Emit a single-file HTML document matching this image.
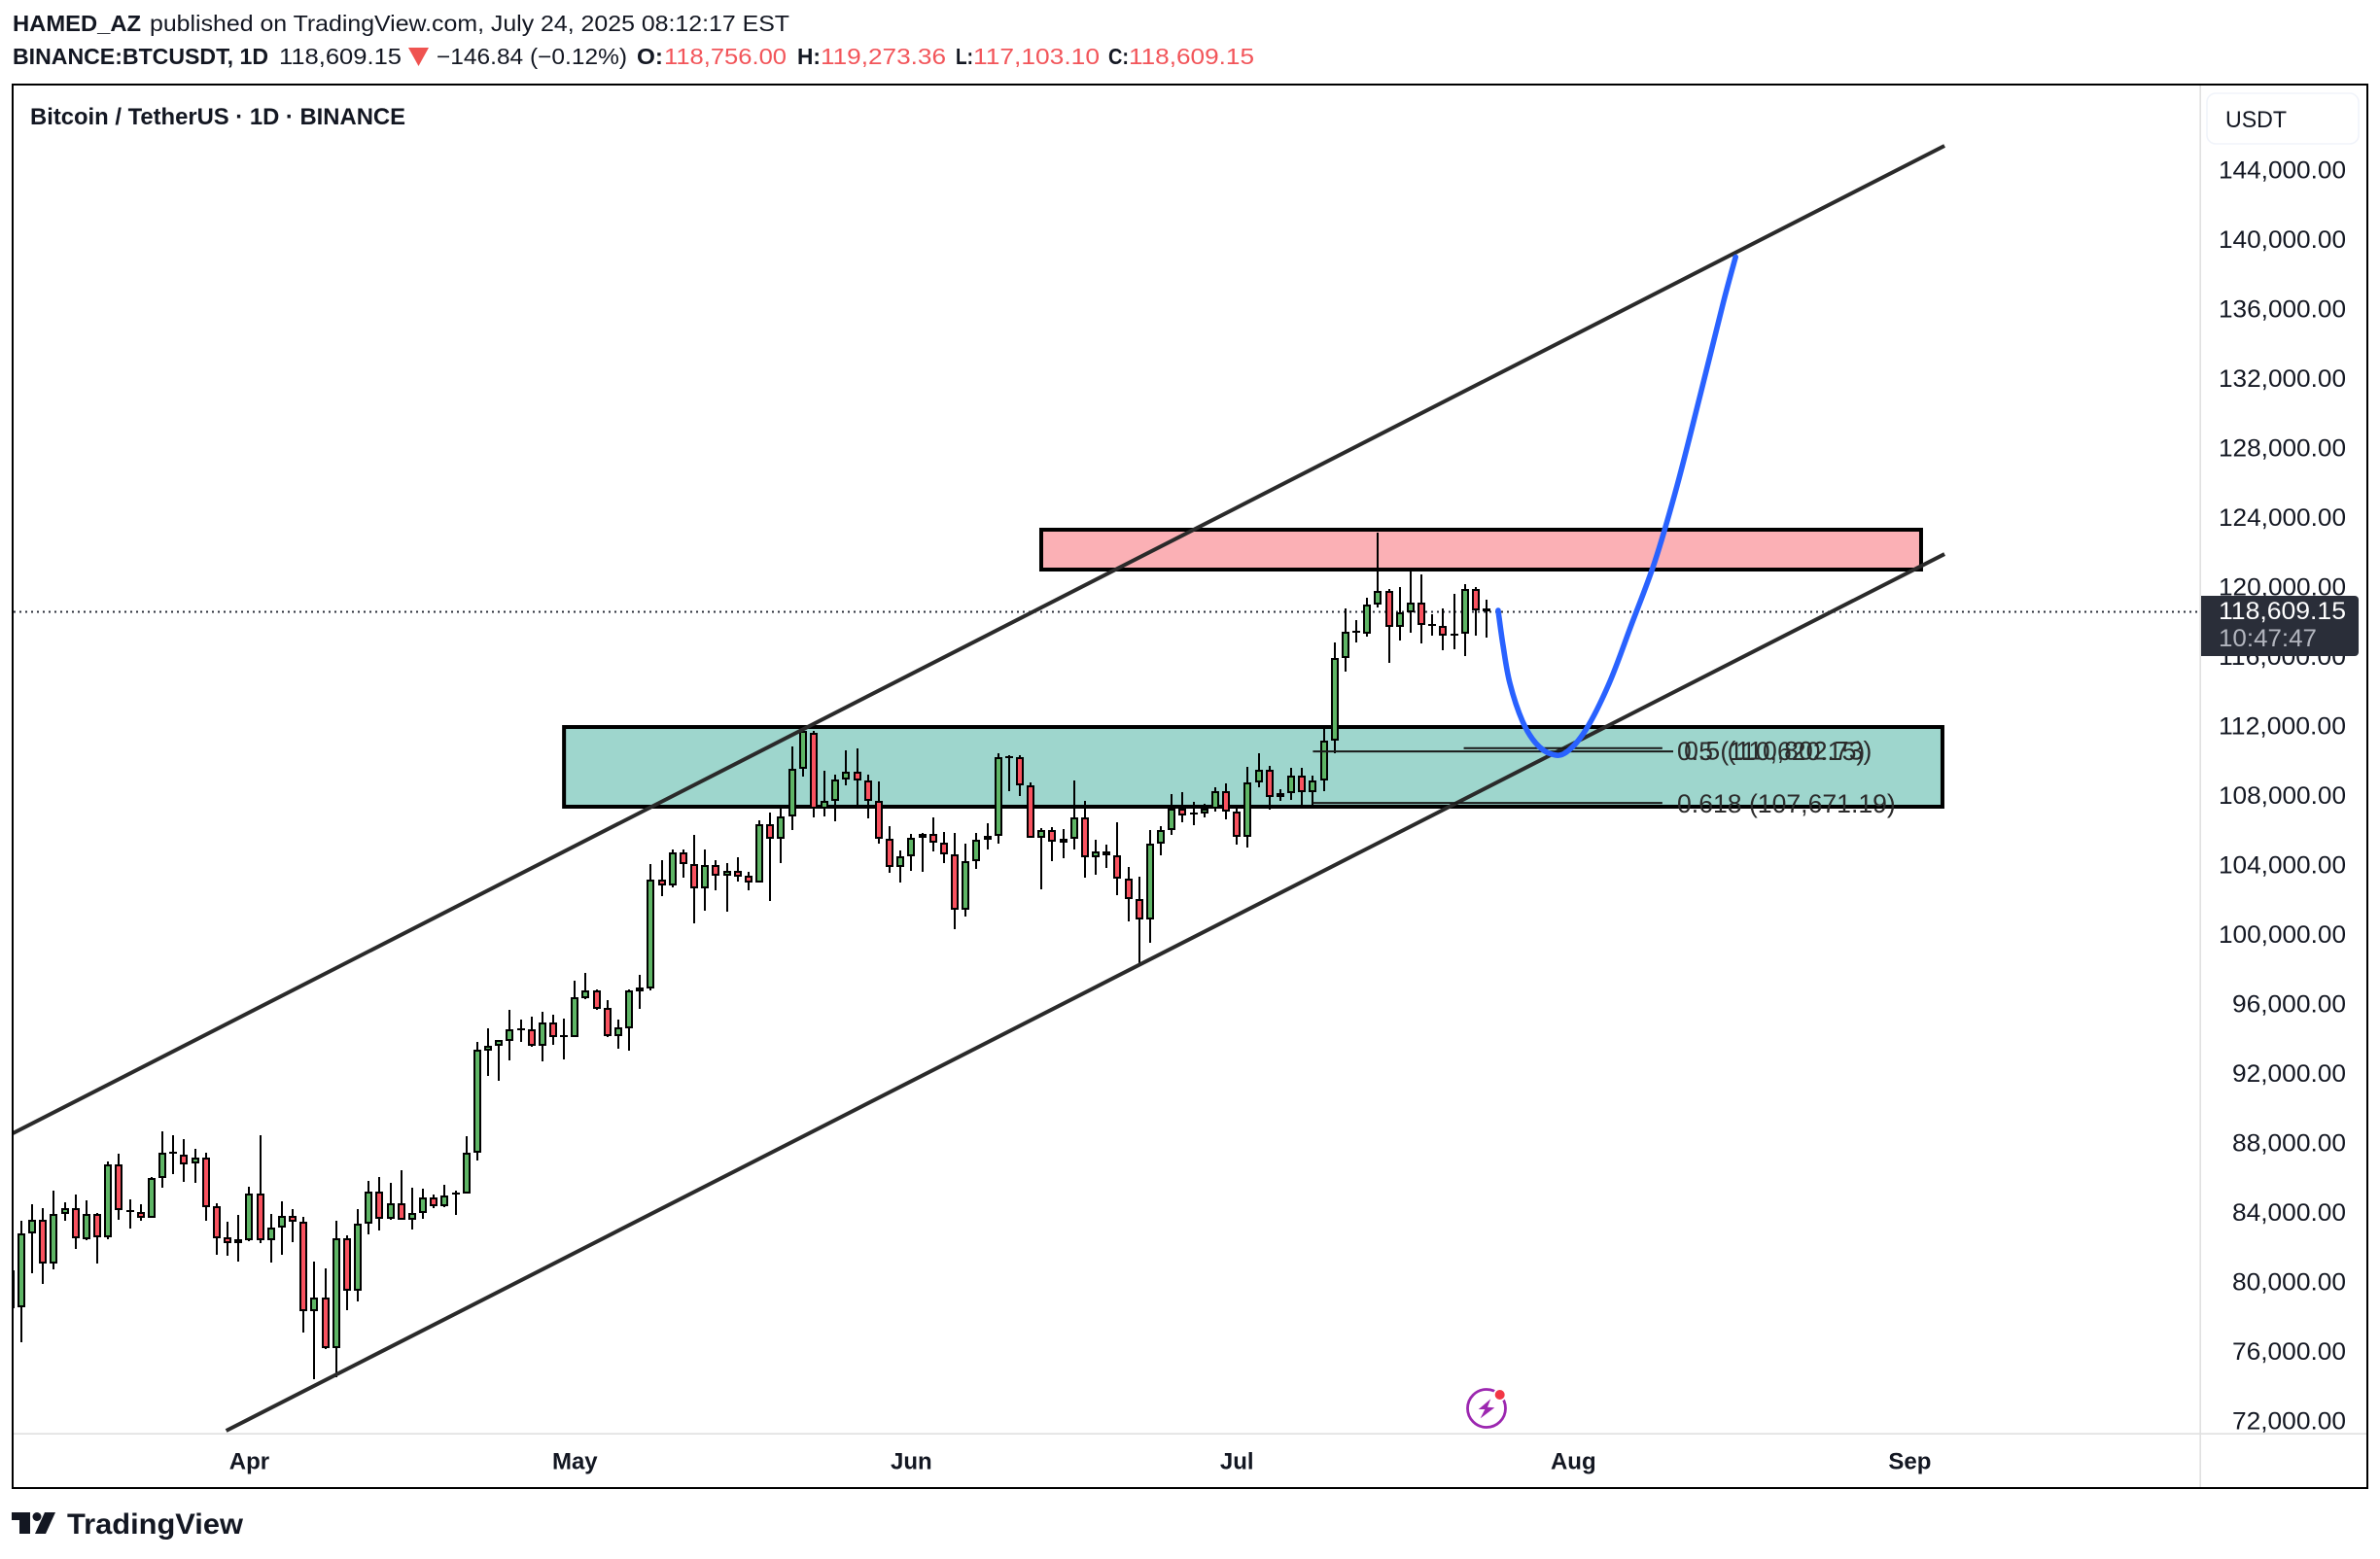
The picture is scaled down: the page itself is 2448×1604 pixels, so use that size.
<!DOCTYPE html>
<html lang="en">
<head>
<meta charset="utf-8">
<title>BTCUSDT 1D chart</title>
<style>
html,body{margin:0;padding:0;background:#fff;}
body{width:2448px;height:1604px;overflow:hidden;}
svg{display:block;font-family:"Liberation Sans",sans-serif;}
.bold{font-weight:700;}
</style>
</head>
<body>
<svg id="chart" xmlns="http://www.w3.org/2000/svg" width="2448" height="1604" viewBox="0 0 2448 1604">
  <defs>
    <clipPath id="pane-clip"><rect x="14" y="88" width="2248.5" height="1386.5"/></clipPath>
  </defs>
  <rect x="0" y="0" width="2448" height="1604" fill="#ffffff"/>

  <g fill="#131722" font-size="23">
    <text class="bold" x="13" y="32" textLength="132" lengthAdjust="spacingAndGlyphs">HAMED_AZ</text>
    <text x="154" y="32" textLength="658" lengthAdjust="spacingAndGlyphs">published on TradingView.com, July 24, 2025 08:12:17 EST</text>
    <text class="bold" x="13" y="66" textLength="263" lengthAdjust="spacingAndGlyphs">BINANCE:BTCUSDT, 1D</text>
    <text x="287" y="66" textLength="126" lengthAdjust="spacingAndGlyphs">118,609.15</text>
    <polygon points="420,49 441,49 430.5,68" fill="#ef5350"/>
    <text x="449" y="66" textLength="196" lengthAdjust="spacingAndGlyphs">−146.84 (−0.12%)</text>
    <text class="bold" x="655" y="66" textLength="27" lengthAdjust="spacingAndGlyphs">O:</text>
    <text fill="#f2555a" x="683" y="66" textLength="126" lengthAdjust="spacingAndGlyphs">118,756.00</text>
    <text class="bold" x="820" y="66" textLength="24" lengthAdjust="spacingAndGlyphs">H:</text>
    <text fill="#f2555a" x="844" y="66" textLength="129" lengthAdjust="spacingAndGlyphs">119,273.36</text>
    <text class="bold" x="983" y="66" textLength="18" lengthAdjust="spacingAndGlyphs">L:</text>
    <text fill="#f2555a" x="1001" y="66" textLength="130" lengthAdjust="spacingAndGlyphs">117,103.10</text>
    <text class="bold" x="1140" y="66" textLength="21" lengthAdjust="spacingAndGlyphs">C:</text>
    <text fill="#f2555a" x="1161" y="66" textLength="129" lengthAdjust="spacingAndGlyphs">118,609.15</text>
  </g>

  <g id="pane" clip-path="url(#pane-clip)"></g>

  <text class="bold" fill="#131722" font-size="24" x="31" y="128" textLength="386" lengthAdjust="spacingAndGlyphs">Bitcoin / TetherUS · 1D · BINANCE</text>

  <g id="price-axis" fill="#131722" font-size="25"></g>
  <g id="time-axis" fill="#131722" font-size="24" font-weight="700" text-anchor="middle"></g>

  <line x1="2263.2" y1="88" x2="2263.2" y2="1530" stroke="#e0e0e0" stroke-width="1.6"/>
  <line x1="14" y1="1475.2" x2="2434" y2="1475.2" stroke="#e0e0e0" stroke-width="1.6"/>

  <g>
    <path d="M2264 613H2422a4 4 0 0 1 4 4V671a4 4 0 0 1-4 4H2264Z" fill="#2a2e39"/>
    <text fill="#ffffff" font-size="25" x="2282" y="637" textLength="131" lengthAdjust="spacingAndGlyphs">118,609.15</text>
    <text fill="#b2b5be" font-size="25" x="2282" y="665" textLength="101" lengthAdjust="spacingAndGlyphs">10:47:47</text>
  </g>

  <g>
    <rect x="2270" y="96" width="156" height="52" rx="9" fill="#ffffff" stroke="#f0f3fa" stroke-width="1.6"/>
    <text fill="#131722" font-size="24" x="2289" y="131" textLength="63" lengthAdjust="spacingAndGlyphs">USDT</text>
  </g>

  <g>
    <circle cx="1529" cy="1449" r="19.5" fill="#ffffff" stroke="#9c27b0" stroke-width="2.8"/>
    <polygon points="1533.3,1439.3 1520.7,1450 1527.3,1450 1522.7,1459.3 1537.3,1448.3 1530,1447.7" fill="#9c27b0"/>
    <circle cx="1542.7" cy="1435" r="6.8" fill="#ffffff"/>
    <circle cx="1542.7" cy="1435" r="5" fill="#f23645"/>
  </g>

  <rect x="13" y="87" width="2422" height="1444" fill="none" stroke="#000000" stroke-width="2"/>

  <g fill="#131722">
    <polygon points="12,1556 31,1556 31,1578 20,1578 20,1564 12,1564"/>
    <circle cx="38" cy="1560.5" r="4.5"/>
    <polygon points="46,1556 57,1556 47,1578 36,1578"/>
    <text class="bold" font-size="30" x="69" y="1578" textLength="181" lengthAdjust="spacingAndGlyphs">TradingView</text>
  </g>
</svg>

<script>
const opens = [78490,
78530,82820,83560,81050,83900,84230,82480,83900,82590,86750,
84120,84010,83710,85970,87480,87310,86810,87140,84350,82560,
82440,82430,85070,82430,83110,83790,83450,78340,79090,76220,
82500,79520,83340,85180,83660,84510,83560,83950,84850,84380,
85150,85070,87420,93330,93580,93890,94600,94530,93610,94920,
94210,94080,96340,96770,95760,94170,94620,96930,96900,103140,
102840,104710,104040,102680,103980,103400,103650,103370,103010,106330,
105490,106780,109520,111610,107230,107670,108900,109350,108850,107670,
105490,103870,104490,105550,105770,105270,104600,101410,104210,105440,
105660,110250,110190,108570,105550,106000,105490,105490,106720,104430,
104760,104540,103200,102020,100850,105210,106000,107230,107020,106950,
107230,108230,107060,105600,108740,109460,107900,108120,109130,108180,
108850,111140,115900,117500,117300,118980,119760,117690,118530,119090,
117860,117740,117300,117300,119870,118756];
const highs = [80690,
83530,84460,84230,85240,84570,85020,84680,83950,86920,87370,
84740,84460,86020,88670,88430,88210,87650,87420,84510,83450,
83840,85460,88430,83900,84630,84180,83730,81160,80770,83510,
82670,84180,85800,86020,85690,86420,85410,85350,85020,85580,
85240,88370,93800,94580,93910,95650,95090,95250,95530,95370,
95140,97320,97770,96840,96210,95090,96840,97660,104040,104260,
104880,104880,105720,104880,104260,104090,104430,103590,106560,107000,
107230,110830,111890,111720,109410,109180,110600,110710,109180,108790,
106220,104820,105770,105830,106720,105880,105830,105210,105830,106390,
110410,110300,110300,108740,106110,106160,106050,108850,107670,105440,
105160,106440,103870,103310,106000,106220,108070,108180,107620,107510,
108460,108680,107230,109630,110410,109690,108350,109580,109580,109130,
111870,116810,118750,118080,119370,123110,119870,119980,120930,120710,
118420,118750,119590,120150,119980,119273];
const lows = [78490,
76530,80500,79890,80750,83530,81900,82430,81060,82460,83580,
83080,83530,83710,85430,86210,85760,85710,83530,81570,81510,
81180,82350,82240,81120,81570,82290,77090,74410,76140,74540,
78380,78880,82740,82970,83580,83560,83020,83640,84250,84310,
83860,85070,86990,91860,91580,92760,93820,93540,92700,93650,
92810,94080,96280,95670,94100,93430,93320,95720,96780,102210,
102710,103270,100640,101370,102550,101320,103050,102550,103010,101930,
104110,106010,109090,106740,106780,106520,108590,107360,106690,105230,
103550,102990,103660,103610,104780,104110,100310,101040,103790,104900,
105230,108250,107970,105550,102600,104220,104390,104900,103270,103440,
103830,102270,100760,98160,99520,104560,105730,106460,106290,106740,
107080,106630,105170,105010,108480,107190,107690,107750,107450,107450,
108230,110430,115130,116810,117150,118810,115640,116920,117370,116760,
117200,116360,116420,116030,117200,117103];
const closes = [80690,
82820,83560,81050,83900,84230,82500,83900,82590,86750,84120,
84010,83710,85970,87420,87390,86790,87140,84330,82540,82260,
82260,85070,82430,83110,83790,83450,78340,79090,76220,82500,
79520,83340,85180,83660,84510,83560,83950,84850,84380,84960,
85050,87420,93350,93580,93910,94530,94510,93610,94920,94120,
94120,96370,96770,95740,94170,94640,96780,96750,103140,102840,
104710,104040,102680,103980,103400,103650,103350,103010,106330,105490,
106780,109520,111720,107230,107670,108900,109350,108850,107670,105490,
103870,104490,105550,105770,105270,104600,101410,104210,105440,105660,
110190,110150,108570,105550,106000,105320,105310,106720,104430,104760,
104540,103200,102020,100850,105210,106000,107230,106830,106930,107230,
108230,107060,105600,108740,109460,107900,108120,109130,108180,108850,
111140,115900,117410,117410,118980,119760,117690,118530,119090,117800,
117780,117180,117180,119870,118640,118609];

const priceTicks = [144000,140000,136000,132000,128000,124000,120000,116000,112000,108000,104000,100000,96000,92000,88000,84000,80000,76000,72000];
const monthLabels = ['Apr','May','Jun','Jul','Aug','Sep'];
const monthBars = [22,52,83,113,144,175];
const lastPrice = 118609.15;

const upperChannelBars = [0.22,178.2];
const upperChannelPrices = [88560,145400];
const lowerChannelBars = [19.87,178.2];
const lowerChannelPrices = [71440,121900];

const resistanceBars = [94.97,176.04];
const resistancePrices = [123301,121007];
const supportBars = [51.0,178.01];
const supportPrices = [111944,107357];

const fibStartBars = [133.9,120,120];
const fibEndBars = [152.2,153.2,152.2];
const fibPrices = [110730,110536,107573];
const fibLabels = ['0.5 (110,802.73)','0.5 (110,620.15)','0.618 (107,671.19)'];
const fibLabelBars = [154.2,153.56,153.56];

const projectionBars = [137.07,137.52,138.15,139.31,140.57,142.0,143.34,145.14,147.3,149.34,151.5,153.55,155.7,157.8,158.95];
const projectionPrices = [118657,116643,114462,112280,110993,110378,110489,111776,114462,117818,121454,125818,131077,136336,139000];

const SVG_NS = 'http://www.w3.org/2000/svg';
const xScale = function (bar) { return 10.84 + 11.163 * bar; };
const yScale = function (price) { return 1462 - (price - 72000) * 0.017875; };

function make(tag, parent) {
  const node = document.createElementNS(SVG_NS, tag);
  parent.appendChild(node);
  return node;
}

const pane = document.getElementById('pane');
const priceAxis = document.getElementById('price-axis');
const timeAxis = document.getElementById('time-axis');

function drawBox(bars, prices, fill) {
  const box = make('rect', pane);
  box.setAttribute('x', xScale(bars[0]));
  box.setAttribute('y', yScale(prices[0]));
  box.setAttribute('width', xScale(bars[1]) - xScale(bars[0]));
  box.setAttribute('height', yScale(prices[1]) - yScale(prices[0]));
  box.setAttribute('fill', fill);
  box.setAttribute('stroke', '#000000');
  box.setAttribute('stroke-width', '4');
  return box;
}

const resistanceBox = drawBox(resistanceBars, resistancePrices, '#fbb0b5');



const supportBox = drawBox(supportBars, supportPrices, '#9ed6cd');



const priceLine = make('line', pane);


priceLine.setAttribute('x1', 14);
priceLine.setAttribute('x2', 2262);
priceLine.setAttribute('y1', Math.round(yScale(lastPrice)) + 0.5);
priceLine.setAttribute('y2', Math.round(yScale(lastPrice)) + 0.5);
priceLine.setAttribute('stroke', '#2a2e39');
priceLine.setAttribute('stroke-width', '2');
priceLine.setAttribute('stroke-dasharray', '2 4');

for (let i = 0; i < opens.length; i++) {
  const cx = Math.round(xScale(i));
  const top = Math.round(yScale(Math.max(opens[i], closes[i])));
  const bottom = Math.round(yScale(Math.min(opens[i], closes[i])));
  const bodyHeight = Math.max(bottom - top, 2);
  const group = make('g', pane);
  
  
  const wick = make('rect', group);
  
  
  wick.setAttribute('x', cx - 1);
  wick.setAttribute('width', 2);
  wick.setAttribute('y', Math.round(yScale(highs[i])));
  wick.setAttribute('height', Math.round(yScale(lows[i])) - Math.round(yScale(highs[i])));
  wick.setAttribute('fill', '#000000');
  const outline = make('rect', group);
  
  
  outline.setAttribute('x', cx - 4);
  outline.setAttribute('width', 8);
  outline.setAttribute('y', top);
  outline.setAttribute('height', bodyHeight);
  outline.setAttribute('fill', '#000000');
  if (bodyHeight > 4) {
    const body = make('rect', group);
    
    
    body.setAttribute('x', cx - 2);
    body.setAttribute('width', 4);
    body.setAttribute('y', top + 2);
    body.setAttribute('height', bodyHeight - 4);
    body.setAttribute('fill', closes[i] >= opens[i] ? '#5eb565' : '#f9525f');
  }
}

function drawChannel(bars, prices) {
  const line = make('line', pane);
  line.setAttribute('x1', xScale(bars[0]));
  line.setAttribute('y1', yScale(prices[0]));
  line.setAttribute('x2', xScale(bars[1]));
  line.setAttribute('y2', yScale(prices[1]));
  line.setAttribute('stroke', '#2a2a2a');
  line.setAttribute('stroke-width', '4');
  return line;
}

const upperChannel = drawChannel(upperChannelBars, upperChannelPrices);



const lowerChannel = drawChannel(lowerChannelBars, lowerChannelPrices);



const fibBaselineOffsets = [12,9,10];

for (let i = 0; i < fibPrices.length; i++) {
  const fibLine = make('line', pane);
  
  
  fibLine.setAttribute('x1', xScale(fibStartBars[i]));
  fibLine.setAttribute('x2', xScale(fibEndBars[i]));
  fibLine.setAttribute('y1', yScale(fibPrices[i]));
  fibLine.setAttribute('y2', yScale(fibPrices[i]));
  fibLine.setAttribute('stroke', '#1a1a1a');
  fibLine.setAttribute('stroke-width', '2');
  const fibText = make('text', pane);
  
  
  fibText.setAttribute('x', xScale(fibLabelBars[i]));
  fibText.setAttribute('y', yScale(fibPrices[i]) + fibBaselineOffsets[i]);
  fibText.setAttribute('font-size', '26.6');
  fibText.setAttribute('fill', '#2b2b2b');
  fibText.textContent = fibLabels[i];
}

const projectionPoints = projectionBars.map(function (bar, i) {
  return [xScale(bar), yScale(projectionPrices[i])];
});
let projectionPath = 'M' + projectionPoints[0][0] + ' ' + projectionPoints[0][1];
for (let i = 0; i < projectionPoints.length - 1; i++) {
  const p0 = projectionPoints[Math.max(i - 1, 0)];
  const p1 = projectionPoints[i];
  const p2 = projectionPoints[i + 1];
  const p3 = projectionPoints[Math.min(i + 2, projectionPoints.length - 1)];
  projectionPath += 'C' + (p1[0] + (p2[0] - p0[0]) / 6) + ' ' + (p1[1] + (p2[1] - p0[1]) / 6) + ' ' +
    (p2[0] - (p3[0] - p1[0]) / 6) + ' ' + (p2[1] - (p3[1] - p1[1]) / 6) + ' ' + p2[0] + ' ' + p2[1];
}
const projection = make('path', pane);


projection.setAttribute('d', projectionPath);
projection.setAttribute('fill', 'none');
projection.setAttribute('stroke', '#2962ff');
projection.setAttribute('stroke-width', '5.6');
projection.setAttribute('stroke-linecap', 'round');
projection.setAttribute('stroke-linejoin', 'round');

for (let i = 0; i < priceTicks.length; i++) {
  const tick = make('text', priceAxis);
  
  
  tick.setAttribute('x', priceTicks[i] >= 100000 ? 2282 : 2282 + 14);
  tick.setAttribute('y', yScale(priceTicks[i]) + 8.7);
  tick.setAttribute('textLength', priceTicks[i] >= 100000 ? 131 : 117);
  tick.setAttribute('lengthAdjust', 'spacingAndGlyphs');
  tick.textContent = priceTicks[i].toLocaleString('en-US') + '.00';
}

for (let i = 0; i < monthLabels.length; i++) {
  const monthTick = make('text', timeAxis);
  
  
  monthTick.setAttribute('x', xScale(monthBars[i]));
  monthTick.setAttribute('y', 1511.5);
  monthTick.textContent = monthLabels[i];
}
</script>
</body>
</html>
